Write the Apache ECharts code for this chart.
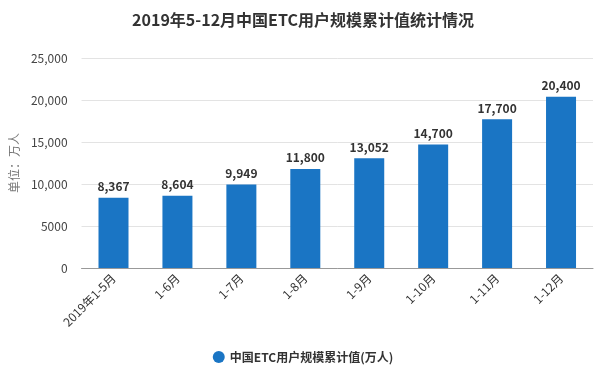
<!DOCTYPE html>
<html>
<head>
<meta charset="utf-8">
<script src="https://cdn.jsdelivr.net/npm/echarts@6/dist/echarts.min.js"></script>
<style>
  html,body{margin:0;padding:0;background:#fff;}
  #chart{width:606px;height:376px;}
</style>
</head>
<body>
<div id="chart"></div>
<script>
  var categories = ['2019年1-5月','1-6月','1-7月','1-8月','1-9月','1-10月','1-11月','1-12月'];
  var etcUsers = [8367, 8604, 9949, 11800, 13052, 14700, 17700, 20400];
  var seriesName = '中国ETC用户规模累计值(万人)';

  function comma(v){
    return String(v).replace(/\B(?=(\d{3})+(?!\d))/g, ',');
  }

  var myChart = echarts.init(document.getElementById('chart'));
  myChart.setOption({
    textStyle:{fontFamily:'"Noto Sans CJK SC", "Liberation Sans", sans-serif'},
    title:{
      text:'2019年5-12月中国ETC用户规模累计值统计情况',
      left:'center',
      top:7,
      textStyle:{fontSize:16, fontWeight:'bold', color:'#333'}
    },
    legend:{
      bottom:8,
      left:'center',
      icon:'circle',
      itemWidth:12,
      itemHeight:12,
      textStyle:{fontSize:12, fontWeight:'bold', color:'#333'},
      data:[seriesName]
    },
    grid:{left:79, right:13, top:58, bottom:108},
    xAxis:{
      type:'category',
      data:categories,
      axisLine:{lineStyle:{color:'#999'}},
      axisTick:{alignWithLabel:true, length:4, lineStyle:{color:'#999'}},
      axisLabel:{rotate:45, color:'#333', fontSize:12, margin:8, interval:0}
    },
    yAxis:{
      type:'value',
      min:0,
      max:25000,
      interval:5000,
      name:'单位：万人',
      nameLocation:'middle',
      nameGap:60,
      nameRotate:90,
      nameTextStyle:{color:'#777', fontSize:12},
      axisLine:{show:false},
      axisTick:{show:false},
      splitLine:{lineStyle:{color:'#e3e3e3'}},
      axisLabel:{
        color:'#444',
        fontSize:12,
        margin:14,
        formatter:function(v){ return v === 5000 || v === 0 ? String(v) : comma(v); }
      }
    },
    series:[{
      name:seriesName,
      type:'bar',
      data:etcUsers,
      barWidth:30,
      itemStyle:{color:'#1a75c4'},
      label:{
        show:true,
        position:'top',
        color:'#333',
        fontWeight:'bold',
        fontSize:12,
        formatter:function(p){ return comma(p.value); }
      }
    }]
  });
</script>
</body>
</html>
